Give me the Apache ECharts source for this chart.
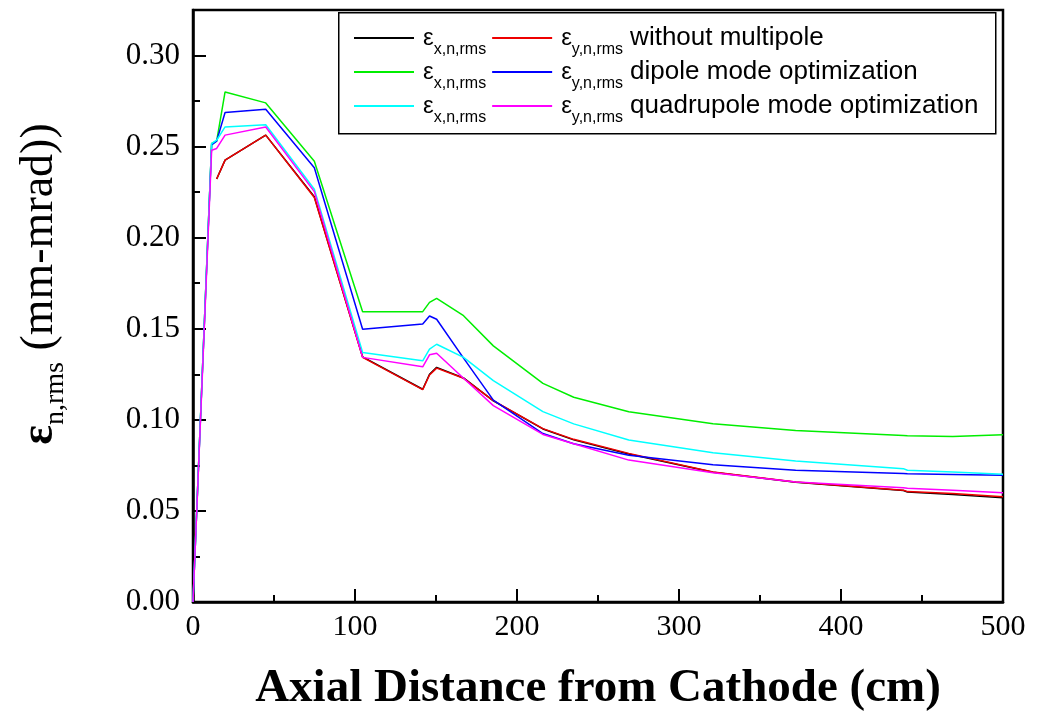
<!DOCTYPE html>
<html>
<head>
<meta charset="utf-8">
<title>Emittance vs axial distance</title>
<script src="https://cdn.jsdelivr.net/npm/echarts@6/dist/echarts.min.js"></script>
<style>
  html, body { margin: 0; padding: 0; background: #fff; }
  #chart { width: 1043px; height: 717px; }
</style>
</head>
<body>
<div id="chart"></div>
<script>
// 轴向位置 (cm)
const xs = [0, 11.5, 14.6, 19.8, 44.9, 74.9, 104.7, 141.8, 146, 150.4, 167, 185.4, 216, 235, 269, 321, 372, 438.5, 441, 469, 500];

// 各曲线的 ε 值 (mm-mrad)，null 表示该处无数据
const exWithout = [null, null, 0.2322, 0.2426, 0.2563, 0.2225, 0.1346, 0.1168, 0.1250, 0.1288, 0.1230, 0.1104, 0.0950, 0.0890, 0.0812, 0.0712, 0.0657, 0.0612, 0.0604, 0.0590, 0.0572];
const eyWithout = [null, null, 0.2322, 0.2426, 0.2563, 0.2221, 0.1343, 0.1166, 0.1246, 0.1284, 0.1228, 0.1106, 0.0952, 0.0893, 0.0816, 0.0714, 0.0659, 0.0614, 0.0606, 0.0595, 0.0578];
const exDipole = [0, 0.2517, 0.2530, 0.2800, 0.2740, 0.2420, 0.1594, 0.1594, 0.1645, 0.1667, 0.1572, 0.1406, 0.1200, 0.1124, 0.1044, 0.0978, 0.0942, 0.0914, 0.0913, 0.0909, 0.0918];
const eyDipole = [0, 0.2510, 0.2530, 0.2687, 0.2705, 0.2384, 0.1497, 0.1526, 0.1570, 0.1552, 0.1339, 0.1108, 0.0925, 0.0869, 0.0806, 0.0754, 0.0723, 0.0705, 0.0704, 0.0700, 0.0696];
const exQuad = [0, 0.2517, 0.2535, 0.2608, 0.2620, 0.2266, 0.1370, 0.1324, 0.1388, 0.1415, 0.1343, 0.1215, 0.1045, 0.0978, 0.0889, 0.0820, 0.0774, 0.0732, 0.0723, 0.0714, 0.0702];
const eyQuad = [0, 0.2480, 0.2490, 0.2563, 0.2608, 0.2253, 0.1343, 0.1291, 0.1357, 0.1366, 0.1228, 0.1078, 0.0920, 0.0869, 0.0779, 0.0710, 0.0659, 0.0627, 0.0624, 0.0614, 0.0600];

const modeLabels = ['without multipole', 'dipole mode optimization', 'quadrupole mode optimization'];
const xTicks = [0, 100, 200, 300, 400, 500];

const seriesDefs = [
  { name: 'εx without multipole', data: exWithout, color: '#000000', axis: 'x', mode: 0 },
  { name: 'εy without multipole', data: eyWithout, color: '#ee0000', axis: 'y', mode: 0 },
  { name: 'εx dipole mode optimization', data: exDipole, color: '#00ee00', axis: 'x', mode: 1 },
  { name: 'εy dipole mode optimization', data: eyDipole, color: '#0000ff', axis: 'y', mode: 1 },
  { name: 'εx quadrupole mode optimization', data: exQuad, color: '#00ffff', axis: 'x', mode: 2 },
  { name: 'εy quadrupole mode optimization', data: eyQuad, color: '#ff00ff', axis: 'y', mode: 2 }
];

function toPoints(ys) {
  const pts = [];
  xs.forEach((x, i) => { if (ys[i] !== null) pts.push([x, ys[i]]); });
  return pts;
}

// 图例文字：ε 带下标
function legendText(name) {
  const def = seriesDefs.find(d => d.name === name);
  const sub = def.axis + ',n,rms';
  let s = '{e|ε}{s|' + sub + '}';
  if (def.axis === 'y') s += '{t|' + modeLabels[def.mode] + '}';
  return s;
}

const legendRich = {
  e: { fontFamily: 'Liberation Sans', fontSize: 24, color: '#000', padding: [0, 0, 0, 4] },
  s: { fontFamily: 'Liberation Sans', fontSize: 16, color: '#000', padding: [24, 0, 0, 0] },
  t: { fontFamily: 'Liberation Sans', fontSize: 26, color: '#000', padding: [0, 0, 0, 7] }
};

const chart = echarts.init(document.getElementById('chart'), null, { renderer: 'canvas' });

const option = {
  backgroundColor: '#fff',
  animation: false,
  grid: {
    left: 193, right: 40, top: 10, bottom: 113,
    show: true, borderColor: '#000', borderWidth: 2.5, backgroundColor: 'transparent'
  },
  legend: modeLabels.map((m, r) => ({
    left: 353,
    top: 25 + r * 34,
    orient: 'horizontal',
    padding: 0,
    itemGap: 5,
    itemWidth: 60,
    itemHeight: 14,
    selectedMode: false,
    itemStyle: { opacity: 0 },
    data: [seriesDefs[r * 2].name, seriesDefs[r * 2 + 1].name],
    formatter: legendText,
    textStyle: { rich: legendRich }
  })),
  graphic: [{
    type: 'rect',
    left: 338, top: 12,
    shape: { width: 657, height: 121 },
    style: { fill: 'transparent', stroke: '#000', lineWidth: 1.5 },
    z: 10
  }],
  xAxis: {
    type: 'value',
    min: 0, max: 500, interval: 100,
    name: 'Axial Distance from Cathode (cm)',
    nameLocation: 'middle',
    nameGap: 63,
    nameTextStyle: { fontFamily: 'Liberation Serif', fontWeight: 'bold', fontSize: 47, color: '#000' },
    axisLine: { show: true, lineStyle: { color: '#000', width: 2.5 } },
    axisTick: { inside: true, length: 13, lineStyle: { color: '#000', width: 2 } },
    minorTick: { show: true, splitNumber: 2, length: 7, lineStyle: { color: '#000', width: 2 } },
    splitLine: { show: false },
    axisLabel: {
      margin: 10, color: '#000', fontFamily: 'Liberation Serif', fontSize: 30,
      formatter: v => xTicks.includes(v) ? String(v) : ''
    }
  },
  yAxis: {
    type: 'value',
    min: 0, max: 0.325, interval: 0.05,
    name: '{e|ε}{s|n,rms}{u| (mm-mrad))}',
    nameLocation: 'middle',
    nameGap: 123,
    nameTextStyle: {
      rich: {
        e: { fontFamily: 'Liberation Serif', fontWeight: 'bold', fontSize: 46, color: '#000', padding: [0, 0, 0, 44] },
        s: { fontFamily: 'Liberation Serif', fontSize: 28, color: '#000', padding: [32, 0, 0, 0] },
        u: { fontFamily: 'Liberation Serif', fontSize: 46, color: '#000' }
      }
    },
    axisLine: { show: true, lineStyle: { color: '#000', width: 2.5 } },
    axisTick: { inside: true, length: 13, lineStyle: { color: '#000', width: 2 } },
    minorTick: { show: true, splitNumber: 2, length: 7, lineStyle: { color: '#000', width: 2 } },
    splitLine: { show: false },
    axisLabel: {
      margin: 13, color: '#000', fontFamily: 'Liberation Serif', fontSize: 31,
      showMaxLabel: false,
      formatter: v => v.toFixed(2)
    }
  },
  series: seriesDefs.map(d => ({
    name: d.name,
    type: 'line',
    data: toPoints(d.data),
    symbol: 'none',
    color: d.color,
    lineStyle: { color: d.color, width: 1.5 },
    clip: true
  }))
};

chart.setOption(option);
window.addEventListener('resize', () => chart.resize());
</script>
</body>
</html>
